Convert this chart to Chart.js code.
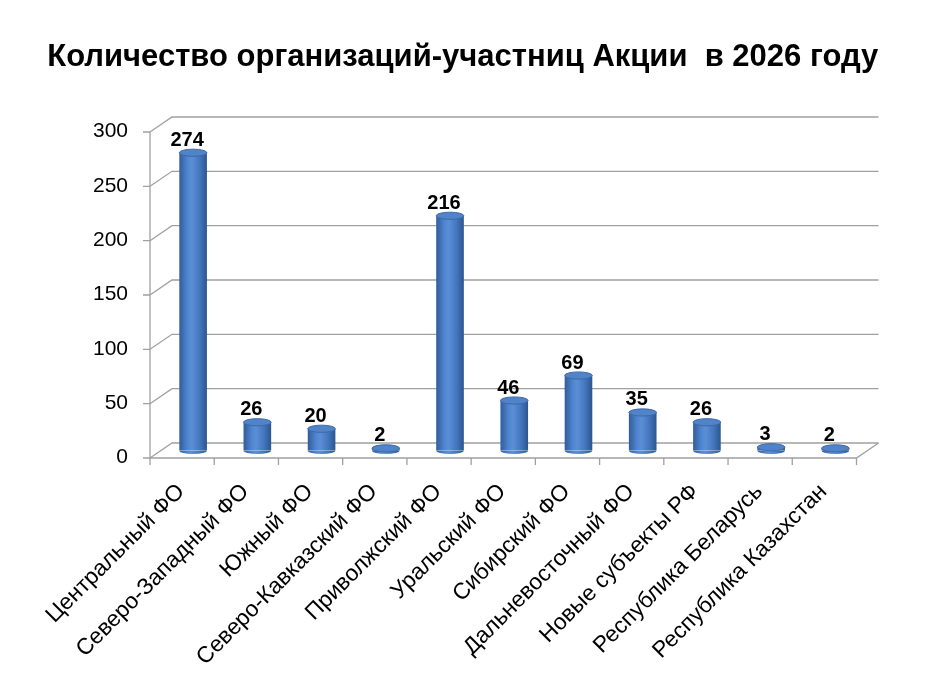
<!DOCTYPE html>
<html><head><meta charset="utf-8">
<script src="https://cdn.jsdelivr.net/npm/chart.js@4.4.1/dist/chart.umd.min.js"></script>
<style>html,body{margin:0;padding:0;background:#fff;} #wrap{width:933px;height:700px;position:relative;}</style>
</head><body><div id="wrap"><canvas id="c"></canvas></div>
<script>
const titleText = 'Количество организаций-участниц Акции  в 2026 году';
const categories = ['Центральный ФО','Северо-Западный ФО','Южный ФО','Северо-Кавказский ФО','Приволжский ФО','Уральский ФО','Сибирский ФО','Дальневосточный ФО','Новые субъекты РФ','Республика Беларусь','Республика Казахстан'];
const values = [274, 26, 20, 2, 216, 46, 69, 35, 26, 3, 2];
const yTicks = [0, 50, 100, 150, 200, 250, 300];

const DX = 11, DY = 7.5, RY = 3.6, BAR_PCT = 0.43;
const FONT = '"Liberation Sans", Arial, sans-serif';

function cylGrad(ctx, cx, w) {
  const g = ctx.createLinearGradient(cx - w / 2, 0, cx + w / 2, 0);
  g.addColorStop(0, '#305c9c');
  g.addColorStop(0.3, '#5086cf');
  g.addColorStop(0.45, '#5a8fd7');
  g.addColorStop(0.75, '#4375bb');
  g.addColorStop(1, '#2b5591');
  return g;
}

const scene = {
  id: 'scene3d',
  beforeDatasetsDraw(chart) {
    const { ctx, chartArea: a, scales: { y } } = chart;
    ctx.save();
    ctx.strokeStyle = '#a0a0a0';
    ctx.lineWidth = 1.3;
    yTicks.forEach(v => {
      const py = y.getPixelForValue(v);
      ctx.beginPath();
      ctx.moveTo(a.left - DX, py + DY);
      ctx.lineTo(a.left + DX, py - DY);
      ctx.lineTo(a.right + DX, py - DY);
      ctx.moveTo(a.left - DX - 7, py + DY);
      ctx.lineTo(a.left - DX, py + DY);
      ctx.stroke();
    });
    const top = y.getPixelForValue(yTicks[yTicks.length - 1]);
    const base = y.getPixelForValue(0);
    ctx.beginPath();
    ctx.moveTo(a.left - DX, top + DY);
    ctx.lineTo(a.left - DX, base + DY);
    ctx.lineTo(a.right - DX, base + DY);
    ctx.lineTo(a.right + DX, base - DY);
    const n = categories.length;
    for (let i = 0; i <= n; i++) {
      const px = a.left - DX + i * a.width / n;
      ctx.moveTo(px, base + DY);
      ctx.lineTo(px, base + DY + 7);
    }
    ctx.stroke();
    ctx.restore();
  },
  afterDatasetsDraw(chart) {
    const ctx = chart.ctx;
    const meta = chart.getDatasetMeta(0);
    ctx.save();
    meta.data.forEach((bar, i) => {
      const p = bar.getProps(['x', 'y', 'base', 'width'], true);
      const cx = p.x, w = p.width, rx = w / 2;
      if (![cx, w, p.y, p.base].every(Number.isFinite)) return;
      ctx.fillStyle = cylGrad(ctx, cx, w);
      ctx.beginPath();
      ctx.ellipse(cx, p.base, rx, RY, 0, 0, Math.PI);
      ctx.fill();
      ctx.fillStyle = '#5183c8';
      ctx.strokeStyle = '#3b69a8';
      ctx.lineWidth = 1;
      ctx.beginPath();
      ctx.ellipse(cx, p.y, rx, RY, 0, 0, 2 * Math.PI);
      ctx.fill();
      ctx.stroke();
      ctx.fillStyle = '#000';
      ctx.font = 'bold 20px ' + FONT;
      ctx.textAlign = 'center';
      ctx.textBaseline = 'alphabetic';
      ctx.fillText(String(values[i]), cx - 6, p.y - 7);
    });
    ctx.restore();
  }
};

new Chart(document.getElementById('c'), {
  type: 'bar',
  data: {
    labels: categories,
    datasets: [{
      data: values,
      yAxisID: 'y',
      barPercentage: BAR_PCT,
      categoryPercentage: 1,
      borderWidth: 0,
      backgroundColor: (c) => {
        const ch = c.chart, xs = ch.scales && ch.scales.x;
        if (!xs || c.dataIndex === undefined) return '#4a7ebb';
        const cx = xs.getPixelForValue(c.dataIndex);
        const w = xs.width / categories.length * BAR_PCT;
        if (!Number.isFinite(cx) || !Number.isFinite(w) || w <= 0) return '#4a7ebb';
        return cylGrad(ch.ctx, cx, w);
      }
    }]
  },
  options: {
    responsive: true,
    maintainAspectRatio: false,
    animation: false,
    layout: { padding: { left: 29, right: 36.5, top: 0, bottom: 0 } },
    plugins: {
      legend: { display: false },
      tooltip: { enabled: false },
      title: {
        display: true,
        text: titleText,
        color: '#000',
        font: { family: FONT, size: 31, weight: 'bold', lineHeight: 1.2 },
        padding: { top: 38.4, bottom: 48.9 }
      }
    },
    scales: {
      x: {
        grid: { display: false, drawTicks: false },
        border: { display: false },
        ticks: {
          autoSkip: false, maxRotation: 45, minRotation: 45,
          color: '#000', font: { family: FONT, size: 22.7 },
          padding: 28, labelOffset: -12
        },
        afterFit: (s) => { s.height = 249.5; }
      },
      y: {
        min: 0, max: 300,
        grid: { display: false, drawTicks: false },
        border: { display: false },
        afterBuildTicks: (s) => { s.ticks = yTicks.map(v => ({ value: v })); },
        ticks: {
          color: '#000', font: { family: FONT, size: 21 },
          padding: 33, labelOffset: 7
        },
        afterFit: (s) => { s.width = 132; }
      },
      yRight: {
        type: 'linear',
        position: 'right',
        min: 0, max: 1,
        grid: { display: false, drawTicks: false },
        border: { display: false },
        ticks: { display: false },
        afterFit: (s) => { s.width = 29; }
      }
    }
  },
  plugins: [scene]
});
</script>
</body></html>
